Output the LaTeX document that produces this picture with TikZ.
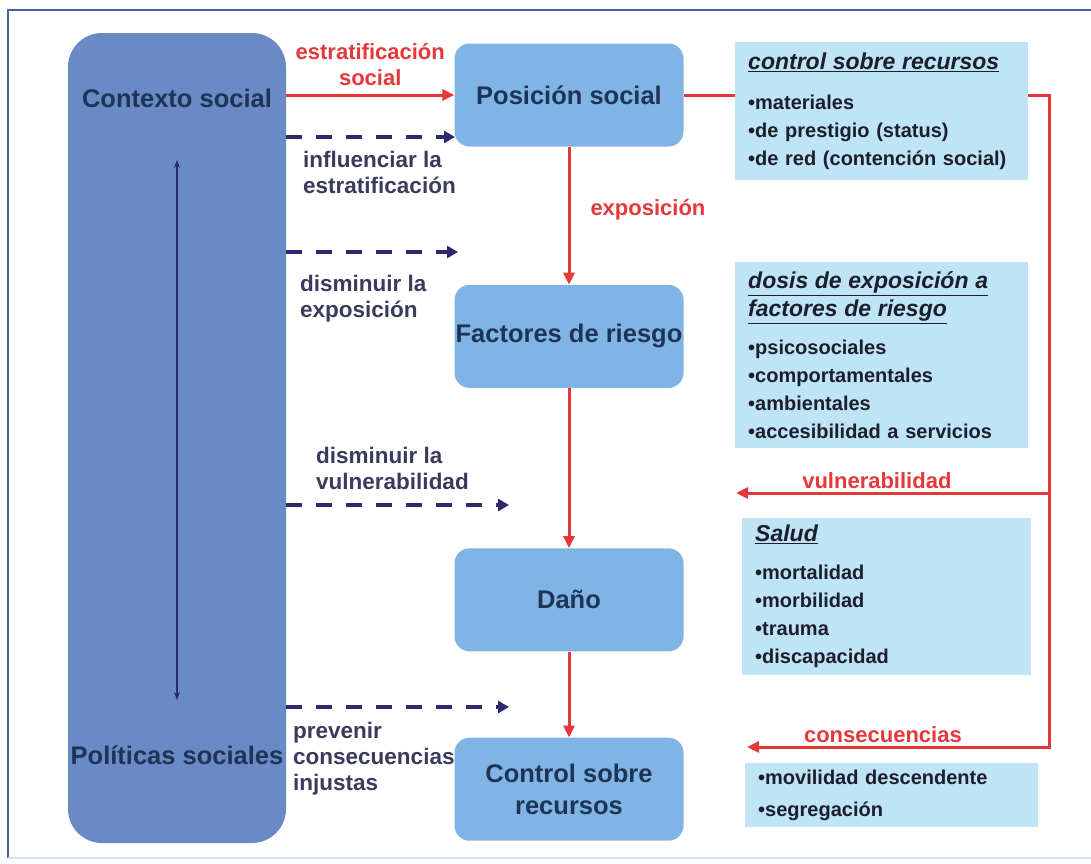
\documentclass[tikz,border=0pt]{standalone}
\usepackage{fontspec}
\setmainfont{Liberation Sans}
\usepackage{tikz}
\usetikzlibrary{positioning, arrows.meta}

\definecolor{bigblue}{RGB}{106,138,198}
\definecolor{stageblue}{RGB}{128,180,228}
\definecolor{infoblue}{RGB}{190,228,246}
\definecolor{stagetext}{RGB}{30,52,86}
\definecolor{infotext}{RGB}{28,30,44}
\definecolor{arrowred}{RGB}{228,56,58}
\definecolor{dashnavy}{RGB}{44,42,110}
\definecolor{labelnavy}{RGB}{58,58,92}
\definecolor{framecol}{RGB}{70,100,160}
\definecolor{framelight}{RGB}{200,232,246}

\newcommand{\infotitle}[1]{{\fontsize{23}{29}\selectfont\itshape\underline{#1}}}

\begin{document}
\begin{tikzpicture}[
  x=1pt, y=-1pt,
  stage/.style={fill=stageblue, rounded corners=15pt, minimum width=229pt, minimum height=103pt,
    align=center, inner sep=0pt, text=stagetext, font=\fontsize{25.5}{32}\selectfont\bfseries},
  bigtext/.style={text=stagetext, inner sep=0pt, font=\fontsize{25.5}{30}\selectfont\bfseries},
  infobox/.style={fill=infoblue, anchor=north west, align=left, inner xsep=13pt, inner ysep=0pt,
    text=infotext, font=\fontsize{20}{28}\selectfont\bfseries},
  redarrow/.style={-{Triangle[length=12pt,width=11pt]}, line width=3pt, draw=arrowred},
  redline/.style={line width=3pt, draw=arrowred},
  dasharrow/.style={-{Triangle[length=11pt,width=12pt]}, line width=3.4pt, draw=dashnavy,
    dash pattern=on 16pt off 14pt},
  redlabel/.style={text=arrowred, align=center, inner sep=3pt, font=\fontsize{22}{26}\selectfont\bfseries},
  dashlabel/.style={text=labelnavy, align=left, anchor=west, inner sep=0pt,
    font=\fontsize{22.5}{26}\selectfont\bfseries}
]
\useasboundingbox (0,0) rectangle (1091,863);
\draw[framecol, line width=1.5pt] (8,858) -- (8,10) -- (1091,10);
\draw[framelight, line width=1.5pt] (8,858) -- (1091,858);

\node[fill=bigblue, rounded corners=34pt, minimum width=218pt, minimum height=810pt] (big) at (177,438) {};
\node[bigtext] (contexto) at (177,98) {Contexto social};
\node[bigtext] (politicas) at (177,755) {Políticas sociales};
\coordinate (ctop) at (177,160);
\coordinate (cbot) at (177,700);
\draw[{Stealth[length=8pt,width=6pt]}-{Stealth[length=8pt,width=6pt]}, dashnavy, line width=1.4pt] (ctop) -- (cbot);

\node[stage] (pos) at (569,95) {Posición social};
\node[stage, below=138pt of pos] (fac) {Factores de riesgo};
\node[stage, below=160pt of fac] (dano) {Daño};
\node[stage, below=86pt of dano] (ctrl) {Control sobre\\recursos};

\node[infobox, text width=267pt, minimum height=138pt] (recursos) at (735,42) {%
\infotitle{control sobre recursos}\\[12pt]
•materiales\\
•de prestigio (status)\\
•de red (contención social)};
\node[infobox, text width=267pt, minimum height=186pt] (dosis) at (735,262) {%
\infotitle{dosis de exposición a}\\
\infotitle{factores de riesgo}\\[10pt]
•psicosociales\\
•comportamentales\\
•ambientales\\
•accesibilidad a servicios};
\node[infobox, text width=263pt, minimum height=157pt] (salud) at (742,518) {%
\infotitle{Salud}\\[10pt]
•mortalidad\\
•morbilidad\\
•trauma\\
•discapacidad};
\node[infobox, text width=267pt, minimum height=64pt] (movil) at (745,763) {%
•movilidad descendente\\[4pt]
•segregación};

\draw[redarrow] (big.east |- pos) -- node[midway, above, redlabel, yshift=5pt] {estratificación\\social} (pos);
\draw[redarrow] (pos) -- node[midway, right=20pt, redlabel, inner sep=0pt, yshift=6pt] {exposición} (fac);
\draw[redarrow] (fac) -- (dano);
\draw[redarrow] (dano) -- (ctrl);

\coordinate (rbus) at (1049,747);
\coordinate (consend) at (747,747);
\coordinate (vulend) at (736,493);
\draw[redline] (pos) -- (recursos.west |- pos);
\draw[redarrow] (recursos.east |- pos) -| (rbus) -- node[pos=0.55, above, redlabel] {consecuencias} (consend);
\draw[redarrow] (rbus |- vulend) -- node[pos=0.55, above, redlabel] {vulnerabilidad} (vulend);

\coordinate (inf) at (455,137);
\coordinate (expo) at (458,252);
\coordinate (vuln) at (509,505);
\coordinate (prev) at (509,707);
\draw[dasharrow] (big.east |- inf) -- (inf);
\draw[dasharrow] (big.east |- expo) -- (expo);
\draw[dasharrow] (big.east |- vuln) -- (vuln);
\draw[dasharrow] (big.east |- prev) -- (prev);
\node[dashlabel] (infl) at (303,172) {influenciar la\\estratificación};
\node[dashlabel] (disexp) at (300,299) {disminuir la\\exposición};
\node[dashlabel] (disvul) at (316,468) {disminuir la\\vulnerabilidad};
\node[dashlabel] (prevenir) at (293,759) {prevenir\\consecuencias\\injustas};
\end{tikzpicture}
\end{document}
